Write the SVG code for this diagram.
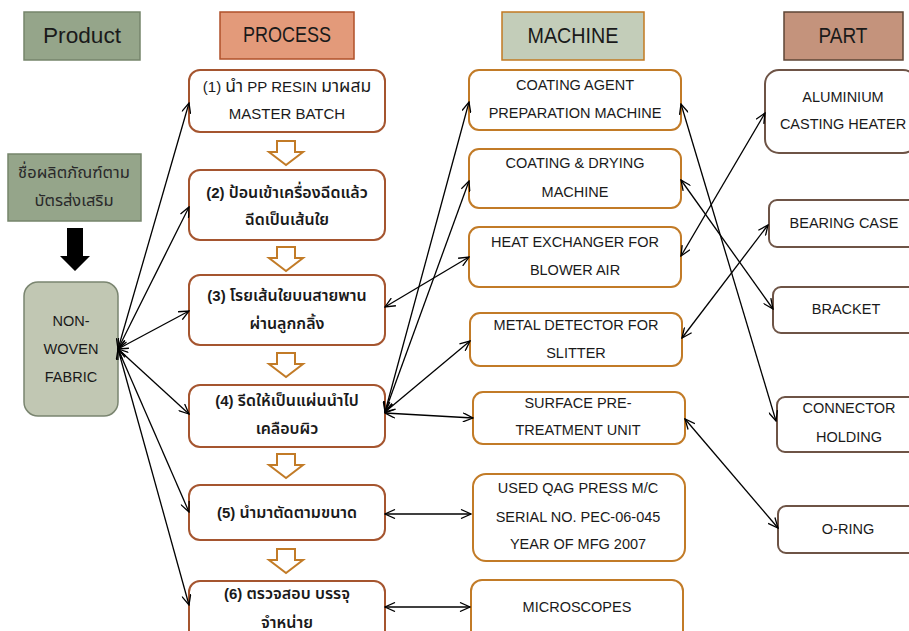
<svg xmlns="http://www.w3.org/2000/svg" width="909" height="631" viewBox="0 0 909 631">
<defs>
<marker id="ah" viewBox="0 0 12 10" refX="11" refY="5" markerWidth="12" markerHeight="10" markerUnits="userSpaceOnUse" orient="auto-start-reverse">
<path d="M1,0.5 L11,5 L1,9.5" fill="none" stroke="#000" stroke-width="1.3"/>
</marker>
<path id="blk" d="M-9,0 H9 V11 H17 L0,24 L-17,11 H-9 Z"/>
</defs>
<style>
text{font-family:"Liberation Sans","Noto Sans Thai","Noto Sans",sans-serif;fill:#1a1a1a;text-anchor:middle}
.hd{font-size:22px}
.t{font-size:14.5px}
.th{font-size:15px}
.b{font-weight:600}
.thai{font-size:16px}
.thai1{font-size:17.5px}
.pn{font-size:16.5px;fill:#2a2a2a}
.proc{fill:#fff;stroke:#a5552f;stroke-width:2}
.mach{fill:#fff;stroke:#c27b27;stroke-width:2}
.part{fill:#fff;stroke:#6e5446;stroke-width:2}
.blk{fill:#fff;stroke:#c27b27;stroke-width:2}
.conn line{stroke:#000;stroke-width:1.3;marker-start:url(#ah);marker-end:url(#ah)}
</style>
<rect width="909" height="631" fill="#fff"/>

<g id="hdr-product"><rect x="24" y="12" width="116" height="48" fill="#95a58a" stroke="#76856b" stroke-width="1.5"/><text class="hd" x="82" y="43" textLength="78" lengthAdjust="spacingAndGlyphs">Product</text></g>
<g id="hdr-process"><rect x="220" y="12" width="134" height="47" fill="#e39a7a" stroke="#b0502a" stroke-width="1.5"/><text class="hd" x="287" y="42" textLength="88" lengthAdjust="spacingAndGlyphs">PROCESS</text></g>
<g id="hdr-machine"><rect x="502" y="12" width="142" height="48" fill="#c3cdb9" stroke="#c27a22" stroke-width="1.5"/><text class="hd" x="573" y="43" textLength="91" lengthAdjust="spacingAndGlyphs">MACHINE</text></g>
<g id="hdr-part"><rect x="784" y="12" width="119" height="48" fill="#c4937c" stroke="#5e4636" stroke-width="1.5"/><text class="hd" x="843" y="43" textLength="49" lengthAdjust="spacingAndGlyphs">PART</text></g>

<g id="product-name"><rect x="8" y="154" width="133" height="67" fill="#95a58a" stroke="#76856b" stroke-width="1.5"/><text class="pn" x="74" y="178">ชื่อผลิตภัณฑ์ตาม</text><text class="pn" x="74" y="206">บัตรส่งเสริม</text></g>
<g id="product-arrow"><path d="M67,228 H83 V256 H90 L75,271 L60,256 H67 Z" fill="#000"/></g>
<g id="non-woven"><rect x="24" y="282" width="94" height="134" rx="14" fill="#c1c7b3" stroke="#7a8570" stroke-width="1.5"/><text class="t" x="71" y="326">NON-</text><text class="t" x="71" y="354">WOVEN</text><text class="t" x="71" y="382">FABRIC</text></g>

<g id="p1"><rect class="proc" x="189" y="70" width="196" height="62" rx="11"/><text class="th" x="287" y="92">(1) <tspan class="thai1">นำ</tspan> PP RESIN <tspan class="thai1">มาผสม</tspan></text><text class="th" x="287" y="119">MASTER BATCH</text></g>
<g id="p2"><rect class="proc" x="189" y="170" width="196" height="70" rx="11"/><text class="th b" x="287" y="198">(2) <tspan class="thai">ป้อนเข้าเครื่องฉีดแล้ว</tspan></text><text class="thai b" x="287" y="225">ฉีดเป็นเส้นใย</text></g>
<g id="p3"><rect class="proc" x="189" y="275" width="196" height="70" rx="11"/><text class="th b" x="287" y="301">(3) <tspan class="thai">โรยเส้นใยบนสายพาน</tspan></text><text class="thai b" x="287" y="329">ผ่านลูกกลิ้ง</text></g>
<g id="p4"><rect class="proc" x="189" y="385" width="196" height="62" rx="11"/><text class="th b" x="287" y="406">(4) <tspan class="thai">รีดให้เป็นแผ่นนำไป</tspan></text><text class="thai b" x="287" y="434">เคลือบผิว</text></g>
<g id="p5"><rect class="proc" x="189" y="485" width="196" height="55" rx="11"/><text class="th b" x="287" y="518">(5) <tspan class="thai">นำมาตัดตามขนาด</tspan></text></g>
<g id="p6"><rect class="proc" x="189" y="581" width="196" height="64" rx="11"/><text class="th b" x="287" y="599">(6) <tspan class="thai">ตรวจสอบ บรรจุ</tspan></text><text class="thai b" x="287" y="628">จำหน่าย</text></g>

<g id="flow-arrows">
<use href="#blk" class="blk" x="286" y="141"/>
<use href="#blk" class="blk" x="286" y="247"/>
<use href="#blk" class="blk" x="286" y="353"/>
<use href="#blk" class="blk" x="286" y="454"/>
<use href="#blk" class="blk" x="286" y="549"/>
</g>

<g id="m1"><rect class="mach" x="469" y="70" width="212" height="60" rx="10"/><text class="t" x="575" y="90">COATING AGENT</text><text class="t" x="575" y="118">PREPARATION MACHINE</text></g>
<g id="m2"><rect class="mach" x="469" y="149" width="212" height="59" rx="10"/><text class="t" x="575" y="168">COATING &amp; DRYING</text><text class="t" x="575" y="197">MACHINE</text></g>
<g id="m3"><rect class="mach" x="469" y="227" width="212" height="60" rx="10"/><text class="t" x="575" y="247">HEAT EXCHANGER FOR</text><text class="t" x="575" y="275">BLOWER AIR</text></g>
<g id="m4"><rect class="mach" x="470" y="313" width="212" height="53" rx="10"/><text class="t" x="576" y="330">METAL DETECTOR FOR</text><text class="t" x="576" y="358">SLITTER</text></g>
<g id="m5"><rect class="mach" x="473" y="392" width="212" height="52" rx="10"/><text class="t" x="578" y="408">SURFACE PRE-</text><text class="t" x="578" y="435">TREATMENT UNIT</text></g>
<g id="m6"><rect class="mach" x="473" y="474" width="212" height="87" rx="13"/><text class="t" x="578" y="493">USED QAG PRESS M/C</text><text class="t" x="578" y="522">SERIAL NO. PEC-06-045</text><text class="t" x="578" y="549">YEAR OF MFG 2007</text></g>
<g id="m7"><rect class="mach" x="471" y="580" width="212" height="64" rx="11"/><text class="t" x="577" y="612">MICROSCOPES</text></g>

<g id="pt1"><rect class="part" x="765" y="70" width="152" height="83" rx="14"/><text class="t" x="843" y="102">ALUMINIUM</text><text class="t" x="843" y="129">CASTING HEATER</text></g>
<g id="pt2"><rect class="part" x="769" y="200" width="148" height="47" rx="8"/><text class="t" x="844" y="228">BEARING CASE</text></g>
<g id="pt3"><rect class="part" x="773" y="287" width="144" height="46" rx="8"/><text class="t" x="846" y="314">BRACKET</text></g>
<g id="pt4"><rect class="part" x="777" y="397" width="140" height="55" rx="8"/><text class="t" x="849" y="413">CONNECTOR</text><text class="t" x="849" y="442">HOLDING</text></g>
<g id="pt5"><rect class="part" x="778" y="506" width="139" height="47" rx="8"/><text class="t" x="848" y="534">O-RING</text></g>

<g id="connectors" class="conn">
<line x1="118" y1="349" x2="189" y2="103"/>
<line x1="118" y1="349" x2="189" y2="207"/>
<line x1="118" y1="349" x2="189" y2="311"/>
<line x1="118" y1="349" x2="189" y2="414"/>
<line x1="118" y1="349" x2="189" y2="512"/>
<line x1="118" y1="349" x2="189" y2="605"/>
<line x1="385" y1="412" x2="469" y2="102"/>
<line x1="385" y1="412" x2="469" y2="181"/>
<line x1="385" y1="307" x2="469" y2="257"/>
<line x1="385" y1="412" x2="470" y2="341"/>
<line x1="385" y1="413" x2="473" y2="418"/>
<line x1="385" y1="514" x2="471" y2="514"/>
<line x1="385" y1="607" x2="470" y2="607"/>
<line x1="681" y1="104" x2="776" y2="421"/>
<line x1="681" y1="180" x2="773" y2="309"/>
<line x1="681" y1="256" x2="765" y2="113"/>
<line x1="682" y1="338" x2="768" y2="225"/>
<line x1="685" y1="419" x2="778" y2="528"/>
</g>
</svg>
